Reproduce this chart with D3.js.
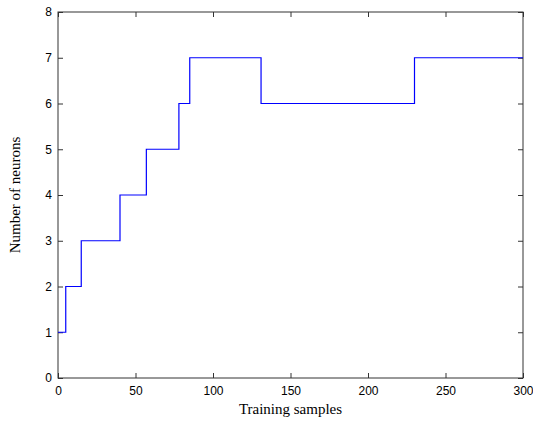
<!DOCTYPE html>
<html><head><meta charset="utf-8">
<script src="https://cdn.jsdelivr.net/npm/d3@7"></script>
<style>body{margin:0;background:#fff}svg{display:block}</style>
</head><body>
<script>
const stepSamples = [0, 5, 15, 40, 57, 78, 85, 131, 230, 300];
const neuronCounts = [1, 2, 3, 4, 5, 6, 7, 6, 7, 7];
const xTicks = [0, 50, 100, 150, 200, 250, 300];
const yTicks = [0, 1, 2, 3, 4, 5, 6, 7, 8];
const xLabel = "Training samples";
const yLabel = "Number of neurons";

const W = 533, H = 421;
const m = {left: 58, top: 12, right: 10, bottom: 43};
const svg = d3.select("body").append("svg").attr("width", W).attr("height", H);
const x = d3.scaleLinear().domain([0, 300]).range([m.left, W - m.right]);
const y = d3.scaleLinear().domain([0, 8]).range([H - m.bottom, m.top]);

const axisColor = "#333";
const tickFont = "Liberation Sans, Arial, sans-serif";

function styleAxis(g, showText) {
  g.select(".domain").remove();
  g.selectAll(".tick line").attr("stroke", axisColor);
  g.selectAll(".tick text").attr("fill", "#000").style("font-family", tickFont).style("font-size", "12px");
  if (!showText) g.selectAll(".tick text").remove();
}

svg.append("g").attr("transform", `translate(0,${y(0)})`)
  .call(d3.axisBottom(x).tickValues(xTicks).tickSize(-5).tickPadding(8))
  .call(g => styleAxis(g, true));
svg.append("g").attr("transform", `translate(0,${y(8)})`)
  .call(d3.axisTop(x).tickValues(xTicks).tickSize(-5))
  .call(g => styleAxis(g, false));
svg.append("g").attr("transform", `translate(${x(0)},0)`)
  .call(d3.axisLeft(y).tickValues(yTicks).tickSize(-5).tickPadding(6))
  .call(g => styleAxis(g, true));
svg.append("g").attr("transform", `translate(${x(300)},0)`)
  .call(d3.axisRight(y).tickValues(yTicks).tickSize(-5))
  .call(g => styleAxis(g, false));

svg.append("rect").attr("x", x(0)).attr("y", y(8))
  .attr("width", x(300) - x(0)).attr("height", y(0) - y(8))
  .attr("fill", "none").attr("stroke", axisColor).attr("stroke-width", 1);

const pts = stepSamples.map((s, i) => [s, neuronCounts[i]]);
const line = d3.line().x(d => x(d[0])).y(d => y(d[1])).curve(d3.curveStepAfter);
svg.append("path").datum(pts).attr("d", line)
  .attr("fill", "none").attr("stroke", "#0000ff").attr("stroke-width", 1.2);

svg.append("text").attr("x", (x(0) + x(300)) / 2).attr("y", 414)
  .attr("text-anchor", "middle").style("font-family", "Liberation Serif, Times New Roman, serif")
  .style("font-size", "15px").text(xLabel);
svg.append("text").attr("transform", `translate(20,${(y(0) + y(8)) / 2}) rotate(-90)`)
  .attr("text-anchor", "middle").style("font-family", "Liberation Serif, Times New Roman, serif")
  .style("font-size", "15px").text(yLabel);
</script>
</body></html>
